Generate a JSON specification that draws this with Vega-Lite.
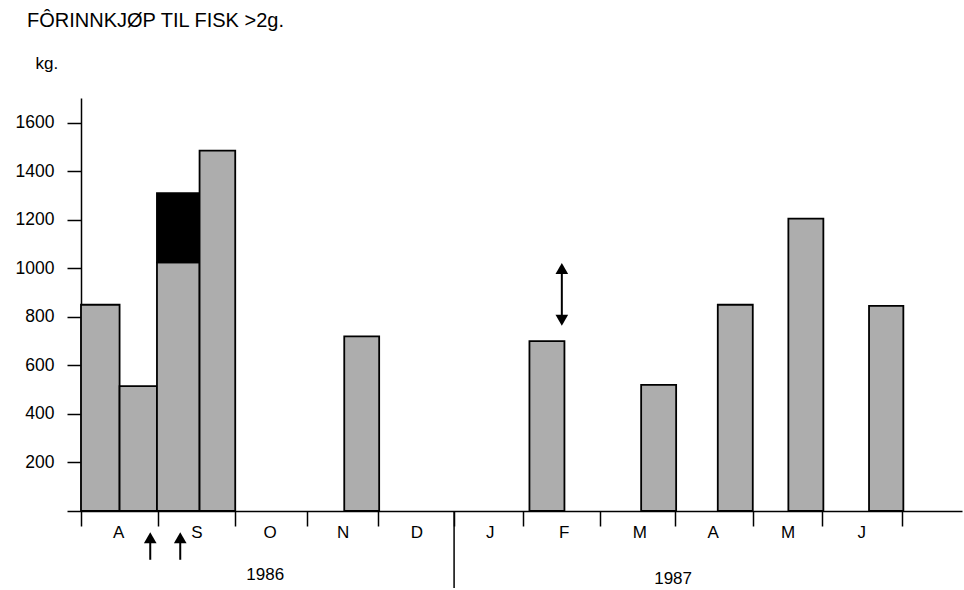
{
  "$schema": "https://vega.github.io/schema/vega-lite/v6.json",
  "autosize": "none",
  "padding": {"left": 81, "top": 98, "right": 2, "bottom": 79},
  "width": 881,
  "height": 413,
  "background": "white",
  "config": {"view": {"stroke": null}, "font": "Liberation Sans"},
  "title": {"text": "FÔRINNKJØP TIL FISK >2g.", "anchor": "start", "frame": "group", "dx": -54, "dy": -7, "fontSize": 20, "fontWeight": "normal", "font": "Liberation Sans", "color": "black", "baseline": "alphabetic", "offset": 0},
  "datasets": {
    "bars": [
      {"x0": 0, "x1": 0.517, "lo": 0, "hi": 850, "kind": "stipple"},
      {"x0": 0.517, "x1": 1.018, "lo": 0, "hi": 515, "kind": "stipple"},
      {"x0": 1.018, "x1": 1.589, "lo": 0, "hi": 1025, "kind": "stipple"},
      {"x0": 1.018, "x1": 1.589, "lo": 1025, "hi": 1310, "kind": "black"},
      {"x0": 1.589, "x1": 2.067, "lo": 0, "hi": 1485, "kind": "stipple"},
      {"x0": 3.528, "x1": 3.996, "lo": 0, "hi": 720, "kind": "stipple"},
      {"x0": 6.010, "x1": 6.479, "lo": 0, "hi": 700, "kind": "stipple"},
      {"x0": 7.507, "x1": 7.976, "lo": 0, "hi": 520, "kind": "stipple"},
      {"x0": 8.534, "x1": 9.003, "lo": 0, "hi": 850, "kind": "stipple"},
      {"x0": 9.480, "x1": 9.949, "lo": 0, "hi": 1205, "kind": "stipple"},
      {"x0": 10.561, "x1": 11.021, "lo": 0, "hi": 845, "kind": "stipple"}
    ],
    "months": [
      {"m": "A", "x": 0.504}, {"m": "S", "x": 1.554}, {"m": "O", "x": 2.536},
      {"m": "N", "x": 3.514}, {"m": "D", "x": 4.502}, {"m": "J", "x": 5.484},
      {"m": "F", "x": 6.475}, {"m": "M", "x": 7.49}, {"m": "A", "x": 8.471},
      {"m": "M", "x": 9.476}, {"m": "J", "x": 10.463}
    ],
    "marks": [{"x": 0.928}, {"x": 1.33}]
  },
  "layer": [
    {
      "data": {"name": "bars"},
      "mark": {"type": "rect", "stroke": "black", "strokeWidth": 1.8},
      "encoding": {
        "x": {"field": "x0", "type": "quantitative",
          "scale": {"domain": [0, 11.807], "nice": false, "zero": false},
          "axis": {"values": [0, 1.032, 2.067, 3.028, 3.979, 5.0, 5.929, 6.957, 7.962, 9.003, 9.936, 10.999],
            "labels": false, "title": null, "grid": false, "tickSize": 15, "tickWidth": 1.5, "tickColor": "black",
            "domainColor": "black", "domainWidth": 1.5}},
        "x2": {"field": "x1"},
        "y": {"field": "lo", "type": "quantitative",
          "scale": {"domain": [0, 1702], "nice": false},
          "axis": {"values": [0, 200, 400, 600, 800, 1000, 1200, 1400, 1600], "format": "d",
            "labelExpr": "datum.value == 0 ? '' : datum.label",
            "grid": false, "tickSize": 14, "tickWidth": 1.5, "tickColor": "black",
            "domainColor": "black", "domainWidth": 1.5, "labelPadding": 13,
            "labelFontSize": 17.5, "labelFont": "Liberation Sans", "labelColor": "black",
            "title": "kg.", "titleAngle": 0, "titleAlign": "left", "titleBaseline": "alphabetic",
            "titleX": -46, "titleY": -30, "titleFontSize": 17, "titleFontWeight": "normal",
            "titleFont": "Liberation Sans", "titleColor": "black"}},
        "y2": {"field": "hi"},
        "fill": {"field": "kind", "type": "nominal",
          "scale": {"domain": ["stipple", "black"], "range": ["#adadad", "#000000"]}, "legend": null}
      }
    },
    {
      "data": {"values": [{"x": 5.0}]},
      "mark": {"type": "rule", "strokeWidth": 1.5, "color": "black"},
      "encoding": {
        "x": {"field": "x", "type": "quantitative"},
        "y": {"datum": 0},
        "y2": {"datum": -317}
      }
    },
    {
      "data": {"name": "months"},
      "mark": {"type": "text", "fontSize": 17, "font": "Liberation Sans", "color": "black", "baseline": "middle"},
      "encoding": {
        "x": {"field": "x", "type": "quantitative"},
        "y": {"datum": -89},
        "text": {"field": "m"}
      }
    },
    {
      "data": {"values": [{"year": "1986", "x": 2.469}]},
      "mark": {"type": "text", "fontSize": 17, "font": "Liberation Sans", "color": "black", "baseline": "middle"},
      "encoding": {
        "x": {"field": "x", "type": "quantitative"},
        "y": {"datum": -262},
        "text": {"field": "year"}
      }
    },
    {
      "data": {"values": [{"year": "1987", "x": 7.935}]},
      "mark": {"type": "text", "fontSize": 17, "font": "Liberation Sans", "color": "black", "baseline": "middle"},
      "encoding": {
        "x": {"field": "x", "type": "quantitative"},
        "y": {"datum": -282},
        "text": {"field": "year"}
      }
    },
    {
      "data": {"name": "marks"},
      "mark": {"type": "rule", "strokeWidth": 2, "color": "black"},
      "encoding": {
        "x": {"field": "x", "type": "quantitative"},
        "y": {"datum": -114},
        "y2": {"datum": -201}
      }
    },
    {
      "data": {"name": "marks"},
      "mark": {"type": "point", "shape": "triangle-up", "filled": true, "color": "black", "size": 160, "opacity": 1},
      "encoding": {
        "x": {"field": "x", "type": "quantitative"},
        "y": {"datum": -110}
      }
    },
    {
      "data": {"values": [{"x": 6.444}]},
      "mark": {"type": "rule", "strokeWidth": 2, "color": "black"},
      "encoding": {
        "x": {"field": "x", "type": "quantitative"},
        "y": {"datum": 995},
        "y2": {"datum": 790}
      }
    },
    {
      "data": {"values": [{"x": 6.444}]},
      "mark": {"type": "point", "shape": "triangle-up", "filled": true, "color": "black", "size": 160, "opacity": 1},
      "encoding": {
        "x": {"field": "x", "type": "quantitative"},
        "y": {"datum": 999}
      }
    },
    {
      "data": {"values": [{"x": 6.444}]},
      "mark": {"type": "point", "shape": "triangle-down", "filled": true, "color": "black", "size": 160, "opacity": 1},
      "encoding": {
        "x": {"field": "x", "type": "quantitative"},
        "y": {"datum": 786}
      }
    }
  ]
}
